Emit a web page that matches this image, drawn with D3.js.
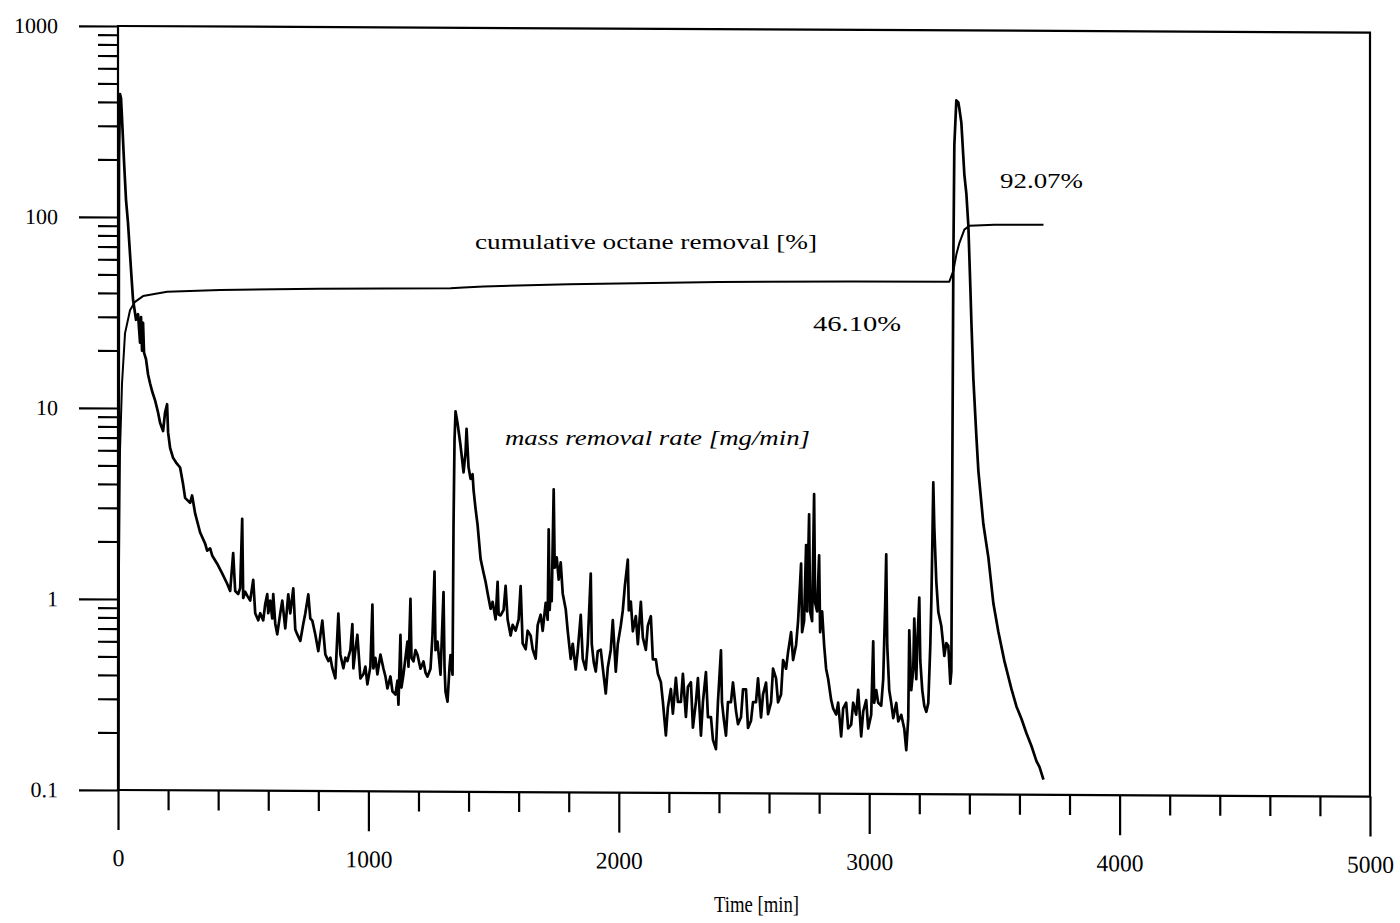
<!DOCTYPE html>
<html><head><meta charset="utf-8">
<script src="https://cdn.jsdelivr.net/npm/d3@7"></script>
<style>
body{margin:0;background:#fff}
svg{display:block}
text{font-family:"Liberation Serif","Times New Roman",serif;fill:#000}
</style>
</head><body>
<svg id="c" width="1400" height="923"></svg>
<script>
// ---- data ----
const xTickValues = [0, 1000, 2000, 3000, 4000, 5000];
const xTickLabels = ["0", "1000", "2000", "3000", "4000", "5000"];
const yTickValues = [0.1, 1, 10, 100, 1000];
const yTickLabels = ["0.1", "1", "10", "100", "1000"];
const xLabel = "Time [min]";

// mass removal rate [mg/min] : [time, value]
const rateSeries = [
[0,0.01],[4,200],[8,440],[12,420],[16,330],[24,196],[32,123],[40,93],[52,53],[60,37],
[72,29],[80,31],[88,22],[92,30],[96,20],[100,28],[104,19.5],[112,18],[120,15],[128,13.5],
[136,12.3],[148,11],[160,9.5],[168,8.4],[180,7.6],[188,9.5],[196,10.5],[200,7.5],[208,6.2],[220,5.5],
[232,5.2],[248,4.9],[260,4.0],[268,3.4],[288,3.2],[296,3.5],[308,2.82],[328,2.24],[348,1.96],[356,1.8],
[368,1.85],[376,1.7],[396,1.54],[416,1.37],[436,1.21],[448,1.11],[460,1.75],[468,1.11],[480,1.07],[488,1.15],
[496,2.65],[500,1.02],[508,1.1],[516,1.05],[528,0.99],[540,1.27],[548,0.85],[560,0.78],[568,0.85],[580,0.78],
[588,0.95],[596,1.07],[600,0.85],[608,0.99],[616,0.8],[620,1.07],[628,0.75],[636,0.66],[648,0.85],[656,0.99],
[668,0.71],[680,1.07],[688,0.85],[700,1.15],[708,0.7],[716,0.66],[728,0.61],[740,0.75],[748,0.85],[760,1.07],
[768,0.8],[776,0.78],[788,0.66],[800,0.54],[808,0.65],[816,0.78],[828,0.52],[840,0.48],[848,0.5],[856,0.44],
[868,0.39],[880,0.85],[888,0.52],[900,0.44],[908,0.5],[916,0.48],[928,0.55],[936,0.75],[940,0.44],[948,0.55],
[956,0.66],[968,0.39],[980,0.41],[988,0.45],[996,0.363],[1008,0.45],[1016,0.95],[1020,0.44],[1028,0.5],[1036,0.41],
[1048,0.52],[1060,0.44],[1068,0.4],[1076,0.346],[1088,0.4],[1096,0.334],[1108,0.322],[1116,0.38],[1120,0.285],[1128,0.66],
[1132,0.35],[1140,0.41],[1148,0.5],[1156,0.61],[1160,0.45],[1168,1.02],[1172,0.5],[1180,0.48],[1188,0.55],[1196,0.52],
[1208,0.44],[1220,0.48],[1228,0.42],[1236,0.4],[1248,0.44],[1256,0.66],[1264,1.42],[1268,0.55],[1276,0.61],[1288,0.41],
[1300,1.11],[1304,0.45],[1308,0.334],[1316,0.296],[1324,0.45],[1328,0.52],[1336,0.41],[1340,2.5],[1344,7],[1348,9.8],
[1356,8.5],[1368,6.5],[1380,4.7],[1388,6],[1392,7.96],[1400,5],[1408,4.35],[1416,4.6],[1420,3.8],[1428,3.03],
[1436,2.5],[1448,1.66],[1460,1.4],[1468,1.26],[1476,1.1],[1488,0.91],[1496,0.99],[1508,0.8],[1516,1.26],[1520,0.85],
[1528,0.84],[1540,0.9],[1548,1.2],[1556,0.8],[1568,0.66],[1576,0.75],[1588,0.7],[1600,0.8],[1608,1.2],[1616,0.6],
[1628,0.56],[1636,0.7],[1648,0.66],[1656,0.56],[1668,0.5],[1676,0.75],[1688,0.85],[1696,0.7],[1708,0.98],[1716,0.8],
[1720,2.38],[1724,0.9],[1728,1.2],[1732,1.0],[1740,3.86],[1744,1.5],[1752,1.7],[1760,1.3],[1768,1.6],[1776,1.1],
[1788,0.91],[1796,0.7],[1808,0.5],[1816,0.6],[1828,0.44],[1836,0.55],[1848,0.85],[1856,0.5],[1868,0.44],[1876,0.6],
[1888,1.4],[1892,0.6],[1900,0.48],[1908,0.43],[1916,0.55],[1928,0.56],[1936,0.45],[1948,0.33],[1956,0.45],[1968,0.56],
[1976,0.8],[1988,0.43],[1996,0.6],[2008,0.75],[2016,0.9],[2024,1.2],[2036,1.66],[2040,0.9],[2048,1.0],[2056,0.7],
[2068,0.84],[2076,0.6],[2088,1.0],[2096,0.65],[2108,0.56],[2116,0.75],[2128,0.84],[2136,0.5],[2148,0.5],[2156,0.42],
[2168,0.38],[2176,0.3],[2188,0.2],[2196,0.28],[2208,0.35],[2216,0.26],[2228,0.4],[2236,0.3],[2248,0.3],[2256,0.42],
[2268,0.25],[2276,0.36],[2288,0.38],[2296,0.22],[2308,0.3],[2316,0.4],[2328,0.2],[2336,0.3],[2348,0.43],[2356,0.25],
[2368,0.25],[2376,0.19],[2388,0.17],[2396,0.3],[2408,0.56],[2412,0.3],[2420,0.24],[2428,0.2],[2436,0.3],[2448,0.3],
[2456,0.38],[2468,0.27],[2476,0.23],[2488,0.25],[2496,0.35],[2508,0.35],[2516,0.22],[2528,0.24],[2536,0.3],[2548,0.3],
[2556,0.4],[2568,0.25],[2576,0.33],[2588,0.38],[2596,0.26],[2608,0.3],[2616,0.45],[2628,0.4],[2636,0.3],[2648,0.33],
[2656,0.5],[2668,0.45],[2676,0.55],[2688,0.7],[2696,0.5],[2708,0.6],[2716,0.8],[2728,1.6],[2732,0.7],[2740,0.8],
[2748,2.0],[2752,0.9],[2760,2.9],[2764,0.9],[2772,0.8],[2780,3.7],[2784,1.0],[2792,0.9],[2800,1.77],[2804,0.7],
[2812,0.9],[2820,0.6],[2828,0.45],[2836,0.4],[2848,0.31],[2856,0.28],[2868,0.26],[2876,0.3],[2888,0.2],[2896,0.28],
[2908,0.3],[2916,0.22],[2928,0.23],[2936,0.3],[2948,0.26],[2956,0.35],[2968,0.2],[2976,0.27],[2988,0.31],[2996,0.22],
[3008,0.26],[3016,0.63],[3020,0.3],[3028,0.35],[3036,0.3],[3048,0.29],[3056,0.4],[3064,1.0],[3068,1.8],[3072,0.6],
[3080,0.35],[3088,0.3],[3096,0.25],[3108,0.3],[3116,0.24],[3128,0.26],[3140,0.22],[3148,0.17],[3156,0.25],[3160,0.72],
[3168,0.35],[3176,0.45],[3180,0.83],[3188,0.4],[3192,0.6],[3200,1.07],[3204,0.5],[3212,0.35],[3220,0.29],[3228,0.27],
[3236,0.3],[3244,0.6],[3248,1.0],[3252,2.0],[3256,4.3],[3260,2.5],[3268,1.3],[3276,0.9],[3288,0.76],[3296,0.6],
[3300,0.53],[3308,0.62],[3316,0.6],[3324,0.38],[3328,0.44],[3332,5],[3336,60],[3340,250],[3348,430],[3356,420],
[3360,390],[3368,329],[3380,176],[3388,140],[3396,95],[3404,45],[3408,30],[3416,15],[3428,7.5],[3436,4.95],
[3456,2.6],[3476,1.74],[3496,1.0],[3516,0.71],[3540,0.5],[3568,0.358],[3588,0.29],[3608,0.25],[3628,0.21],[3648,0.18],
[3668,0.15],[3680,0.14],[3696,0.12]
];

// cumulative octane removal [%] : [time, value]
const cumulativeSeries = [
[0,0.01],[4,1.5],[8,6],[16,13.4],[28,24.6],[48,32.5],[68,36],[100,38.6],[196,40.7],[408,41.8],
[800,42.6],[1328,43.2],[1380,43.7],[1460,44.3],[1800,45.8],[2400,47.4],[2928,48.2],[3320,48.3],[3336,55],[3348,67],[3360,77],
[3380,90.6],[3400,95],[3500,96.2],[3696,96.5]
];

const annotationTexts = ["cumulative octane removal [%]", "46.10%", "92.07%", "mass removal rate [mg/min]"];

// ---- drawing ----
const W = 1252, H = 764;
const x = d3.scaleLinear().domain([0, 5000]).range([0, W]);
const y = d3.scaleLog().domain([0.1, 1000]).range([H, 0]);

const svg = d3.select("#c");
const g = svg.append("g").attr("transform", "translate(118,26) skewY(0.3)");

g.append("defs").append("clipPath").attr("id", "clip")
  .append("rect").attr("x", 0).attr("y", 0).attr("width", W).attr("height", H);

// minor ticks
const yMinor = [];
[0.1, 1, 10, 100].forEach(d => { for (let k = 2; k <= 9; k++) yMinor.push(d * k); });
const xMinor = d3.range(0, 5001, 200).filter(v => v % 1000 !== 0);

const yMinorAxis = g.append("g").call(d3.axisLeft(y).tickValues(yMinor).tickSize(20).tickFormat(""));
const yMajorAxis = g.append("g").call(d3.axisLeft(y).tickValues(yTickValues).tickSize(39).tickPadding(21)
  .tickFormat((d, i) => yTickLabels[i]));
const xMinorAxis = g.append("g").attr("transform", `translate(0,${H})`)
  .call(d3.axisBottom(x).tickValues(xMinor).tickSize(20).tickFormat(""));
const xMajorAxis = g.append("g").attr("transform", `translate(0,${H})`)
  .call(d3.axisBottom(x).tickValues(xTickValues).tickSize(40).tickPadding(19)
    .tickFormat((d, i) => xTickLabels[i]));

[yMinorAxis, yMajorAxis, xMinorAxis, xMajorAxis].forEach(a => {
  a.select(".domain").remove();
  a.selectAll("line").attr("stroke", "#000").attr("stroke-width", 2.2);
});
yMajorAxis.selectAll("text").attr("font-size", 22).attr("font-family", "Liberation Serif");
xMajorAxis.selectAll("text").attr("font-size", 24).attr("font-family", "Liberation Serif")
  .each(function(d, i) { if (xTickLabels[i].length === 4) d3.select(this).attr("textLength", 47).attr("lengthAdjust", "spacingAndGlyphs"); });

// frame
g.append("rect").attr("x", 0).attr("y", 0).attr("width", W).attr("height", H)
  .attr("fill", "none").attr("stroke", "#000").attr("stroke-width", 2.2);

const line = d3.line().x(d => x(d[0])).y(d => y(Math.max(d[1], 0.001)));

const data = g.append("g").attr("clip-path", "url(#clip)");
data.append("path").datum(cumulativeSeries).attr("d", line)
  .attr("fill", "none").attr("stroke", "#000").attr("stroke-width", 2).attr("stroke-linejoin", "round");
data.append("path").datum(rateSeries).attr("d", line)
  .attr("fill", "none").attr("stroke", "#000").attr("stroke-width", 2.7).attr("stroke-linejoin", "round");

// annotations
function label(txt, xPos, yPos, size, len, italic) {
  const t = svg.append("text").attr("x", xPos).attr("y", yPos).attr("font-size", size).text(txt);
  if (italic) t.attr("font-style", "italic");
  if (len) t.attr("textLength", len).attr("lengthAdjust", "spacingAndGlyphs");
  return t;
}
label(annotationTexts[0], 475, 249, 22, 342, false);
label(annotationTexts[1], 813, 331, 22, 88, false);
label(annotationTexts[2], 1000, 188, 22, 83, false);
label(annotationTexts[3], 505, 445, 22, 305, true);
label(xLabel, 714, 912, 24, 85, false);
</script>
</body></html>
